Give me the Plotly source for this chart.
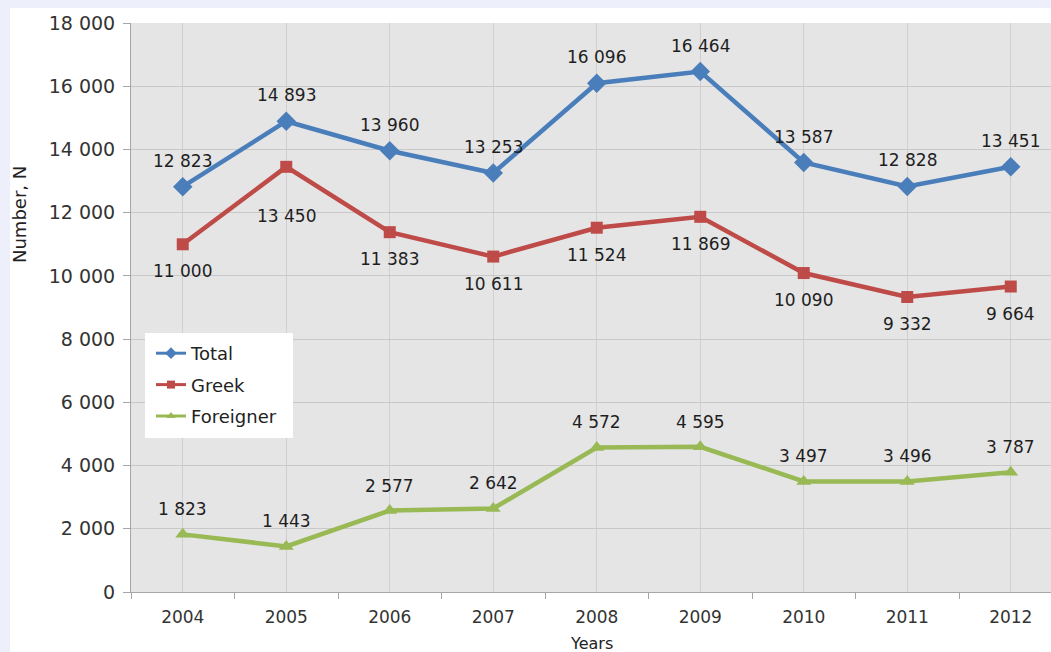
import plotly.graph_objects as go

years = ["2004", "2005", "2006", "2007", "2008", "2009", "2010", "2011", "2012"]
total = [12823, 14893, 13960, 13253, 16096, 16464, 13587, 12828, 13451]
greek = [11000, 13450, 11383, 10611, 11524, 11869, 10090, 9332, 9664]
foreigner = [1823, 1443, 2577, 2642, 4572, 4595, 3497, 3496, 3787]
y_ticks = [0, 2000, 4000, 6000, 8000, 10000, 12000, 14000, 16000, 18000]

FONT = "DejaVu Sans"
BLUE = "#4A7EBB"
RED = "#BE4B48"
GREEN = "#98B954"

xi = list(range(len(years)))

fig = go.Figure()
series = [
    ("Total", total, BLUE, "diamond", 15, 9),
    ("Greek", greek, RED, "square", 12, 8),
    ("Foreigner", foreigner, GREEN, "triangle-up", 13, 8),
]
for name, vals, col, sym, msize, lsize in series:
    fig.add_trace(go.Scatter(
        x=xi, y=vals, name=name, mode="lines+markers",
        line=dict(color=col, width=4.5),
        marker=dict(symbol=sym, size=msize, color=col),
        legendgroup=name, showlegend=False, hoverinfo="skip",
    ))
    # legend-only entry with the smaller legend symbol
    fig.add_trace(go.Scatter(
        x=[None], y=[None], name=name, mode="lines+markers",
        line=dict(color=col, width=3),
        marker=dict(symbol=sym, size=lsize, color=col),
        legendgroup=name, showlegend=True,
    ))

def fmt(v):
    return f"{v:,}".replace(",", " ")

LBL = dict(family=FONT, size=17, color="#1E1E1E")
annotations = []
for i, v in enumerate(total):
    annotations.append(dict(x=xi[i], y=v, text=fmt(v), showarrow=False, yshift=26, font=LBL))
greek_shift = [-27, -49, -27, -27, -27, -27, -27, -27, -27]
for i, v in enumerate(greek):
    annotations.append(dict(x=xi[i], y=v, text=fmt(v), showarrow=False, yshift=greek_shift[i], font=LBL))
for i, v in enumerate(foreigner):
    annotations.append(dict(x=xi[i], y=v, text=fmt(v), showarrow=False, yshift=25, font=LBL))

W, H = 1051, 652
L, T, B = 131, 23, 60
pw = W - L
ph = H - T - B

def px_x(p):
    return (p - L) / pw

def px_y(p):
    return (H - B - p) / ph

annotations.append(dict(xref="paper", yref="paper", x=px_x(19), y=px_y(215), text="Number, N",
                        textangle=-90, showarrow=False, xanchor="center", yanchor="middle",
                        font=dict(family=FONT, size=18, color="#222")))
annotations.append(dict(xref="paper", yref="paper", x=px_x(591), y=px_y(643), text="Years",
                        showarrow=False, xanchor="center", yanchor="middle",
                        font=dict(family=FONT, size=16, color="#222")))

shapes = [
    dict(type="rect", xref="paper", yref="paper", x0=px_x(0), x1=px_x(W), y0=px_y(8), y1=px_y(0),
         fillcolor="#EDF0FB", line=dict(width=0)),
    dict(type="rect", xref="paper", yref="paper", x0=px_x(0), x1=px_x(10), y0=px_y(H), y1=px_y(0),
         fillcolor="#EDF0FB", line=dict(width=0)),
    # legend box
    dict(type="rect", xref="paper", yref="paper", x0=px_x(145), x1=px_x(293), y0=px_y(438), y1=px_y(333),
         fillcolor="white", line=dict(width=0), layer="above"),
]

fig.update_layout(
    width=W, height=H,
    margin=dict(l=L, r=0, t=T, b=B),
    paper_bgcolor="white",
    plot_bgcolor="#E5E5E5",
    separators=". ",
    font=dict(family=FONT, size=17, color="#333"),
    showlegend=True,
    legend=dict(x=px_x(151), y=px_y(335), xanchor="left", yanchor="top",
                bgcolor="rgba(0,0,0,0)", font=dict(family=FONT, size=18, color="#222"),
                tracegroupgap=5, traceorder="grouped", itemwidth=30),
    annotations=annotations,
    shapes=shapes,
    hovermode=False,
)
fig.update_xaxes(
    range=[-0.5, -0.5 + pw / 103.5],
    tickvals=xi, ticktext=years, ticks="",
    showgrid=True, gridcolor="#CFCFCF", gridwidth=1,
    showline=True, linecolor="#A6A6A6", linewidth=1,
    tickfont=dict(family=FONT, size=17, color="#333"),
    ticklabelstandoff=10,
    minor=dict(tickvals=[i + 0.5 for i in range(-1, len(years))], ticks="outside",
               ticklen=6, tickcolor="#A6A6A6", showgrid=False),
    zeroline=False, fixedrange=True,
)
fig.update_yaxes(
    range=[0, 18000],
    tickvals=y_ticks, tickformat=",",
    ticks="outside", ticklen=7, tickcolor="#A6A6A6",
    showgrid=True, gridcolor="#C8C8C8", gridwidth=1,
    showline=True, linecolor="#A6A6A6", linewidth=1,
    tickfont=dict(family=FONT, size=19, color="#333"),
    ticklabelstandoff=4,
    zeroline=False, fixedrange=True,
)

fig.write_html(
    "out.html",
    config={"displayModeBar": False},
    post_script="document.body.style.margin='0';document.body.style.overflow='hidden';",
)
